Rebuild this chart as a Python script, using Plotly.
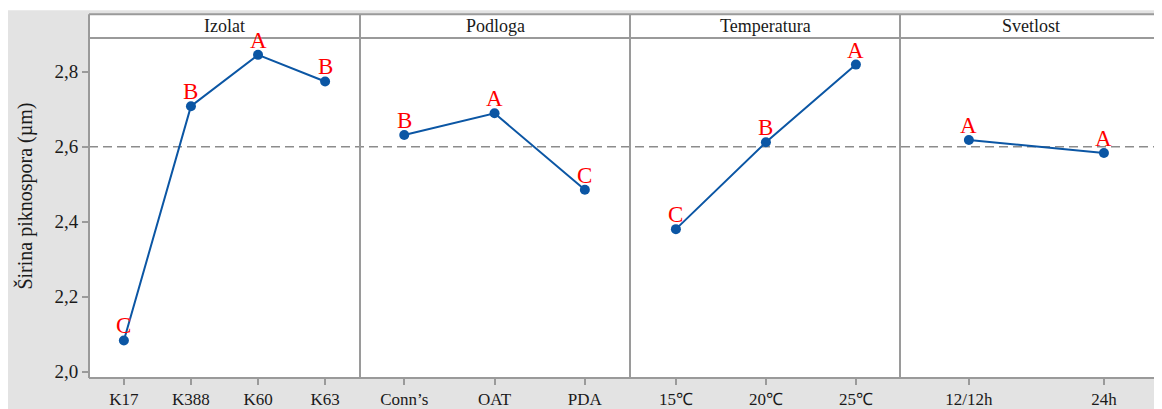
import plotly.graph_objects as go

# ---- data ----
panel_titles = ["Izolat", "Podloga", "Temperatura", "Svetlost"]
izolat_cats = ["K17", "K388", "K60", "K63"]
izolat_vals = [2.083, 2.708, 2.845, 2.774]
izolat_letters = ["C", "B", "A", "B"]
podloga_cats = ["Conn\u2019s", "OAT", "PDA"]
podloga_vals = [2.631, 2.689, 2.485]
podloga_letters = ["B", "A", "C"]
temp_cats = ["15\u2103", "20\u2103", "25\u2103"]
temp_vals = [2.380, 2.612, 2.819]
temp_letters = ["C", "B", "A"]
svet_cats = ["12/12h", "24h"]
svet_vals = [2.618, 2.583]
svet_letters = ["A", "A"]
ref_mean = 2.6
y_ticks = [2.0, 2.2, 2.4, 2.6, 2.8]
y_title = "\u0160irina piknospora (\u00b5m)"

# ---- layout geometry (page pixels; the page body adds an 8px offset) ----
OFF = 8
W, H = 1162 - OFF, 409 - OFF
L, R, T, B = 89 - OFF, 0, 38 - OFF, 409 - 381
PW = W - L - R
PH = H - T - B
panel_px = [(89, 360), (360, 630), (630, 900), (900, 1162)]
x_ranges = [[-0.52, 3.52], [-0.49, 2.50], [-0.51, 2.49], [-0.51, 1.43]]

def px_x(p):
    return (p - OFF - L) / PW

def px_y(p):
    return (H - B - (p - OFF)) / PH

SERIF = "Liberation Serif, Times New Roman, serif"
BLUE = "#0b56a4"
GRAY = "#9a9a9a"

panels = [
    (izolat_cats, izolat_vals, izolat_letters),
    (podloga_cats, podloga_vals, podloga_letters),
    (temp_cats, temp_vals, temp_letters),
    (svet_cats, svet_vals, svet_letters),
]

fig = go.Figure()
layout = dict(
    width=W, height=H,
    margin=dict(l=L, r=R, t=T, b=B, pad=0),
    paper_bgcolor="#e3e3e3",
    plot_bgcolor="white",
    showlegend=False,
    separators=",.",
    font=dict(family=SERIF, color="#1a1a1a", size=17),
)
annotations = []
shapes = []

for i, (cats, vals, letters) in enumerate(panels):
    xname = "x" if i == 0 else f"x{i+1}"
    axkey = "xaxis" if i == 0 else f"xaxis{i+1}"
    d0, d1 = panel_px[i]
    layout[axkey] = dict(
        domain=[max(0, px_x(d0)), min(1, px_x(d1))],
        range=x_ranges[i],
        tickvals=list(range(len(cats))),
        ticktext=cats,
        ticks="outside", ticklen=6, tickwidth=1.5, tickcolor=GRAY,
        showgrid=False, zeroline=False, showline=False,
        anchor="y", fixedrange=True,
        tickfont=dict(family=SERIF, size=17, color="#1a1a1a"),
    )
    fig.add_trace(go.Scatter(
        x=list(range(len(cats))), y=vals, xaxis=xname, yaxis="y",
        mode="lines+markers",
        line=dict(color=BLUE, width=2),
        marker=dict(color=BLUE, size=10),
        hoverinfo="skip",
    ))
    for j, (v, lt) in enumerate(zip(vals, letters)):
        annotations.append(dict(
            x=j, y=v, xref=xname, yref="y", text=lt, showarrow=False,
            yanchor="bottom", xanchor="center", yshift=0,
            font=dict(family=SERIF, size=23, color="#ff0000"),
        ))
    # strip title
    annotations.append(dict(
        x=(px_x(d0) + px_x(d1)) / 2, y=px_y(26), xref="paper", yref="paper",
        text=panel_titles[i], showarrow=False, xanchor="center", yanchor="middle",
        font=dict(family=SERIF, size=18, color="#1a1a1a"),
    ))

layout["yaxis"] = dict(
    range=[1.9828, 2.890],
    tickvals=y_ticks,
    tickformat=".1f",
    ticks="outside", ticklen=6, tickwidth=1.5, tickcolor=GRAY,
    showgrid=False, zeroline=False, showline=False,
    anchor="x", fixedrange=True,
    tickfont=dict(family=SERIF, size=19, color="#1a1a1a"),
)

# y-axis title
annotations.append(dict(
    x=px_x(25), y=px_y(198), xref="paper", yref="paper", text=y_title,
    textangle=-90, showarrow=False, xanchor="center", yanchor="middle",
    font=dict(family=SERIF, size=20, color="#1a1a1a"),
))

strip_top = px_y(14)
# thin white band at the very top (reference grey starts 2px lower)
shapes.append(dict(type="rect", xref="paper", yref="paper", x0=px_x(0), x1=px_x(1200),
                   y0=px_y(10), y1=px_y(0), fillcolor="white", line=dict(width=0), layer="above"))
# strip background
shapes.append(dict(type="rect", xref="paper", yref="paper", x0=0, x1=1,
                   y0=1, y1=strip_top, fillcolor="white", line=dict(width=0), layer="above"))
# reference dashed line
shapes.append(dict(type="line", xref="paper", yref="y", x0=0, x1=1, y0=ref_mean, y1=ref_mean,
                   line=dict(color="#8c8c8c", width=1.6, dash="9px,5px"), layer="below"))
# frame lines
for yy in [0, 1, strip_top]:
    shapes.append(dict(type="line", xref="paper", yref="paper", x0=0, x1=1, y0=yy, y1=yy,
                       line=dict(color=GRAY, width=2), layer="above"))
for d0, d1 in panel_px:
    shapes.append(dict(type="line", xref="paper", yref="paper", x0=px_x(d0), x1=px_x(d0),
                       y0=0, y1=strip_top, line=dict(color=GRAY, width=2), layer="above"))

layout["annotations"] = annotations
layout["shapes"] = shapes
fig.update_layout(**layout)
fig.write_html("out.html")
